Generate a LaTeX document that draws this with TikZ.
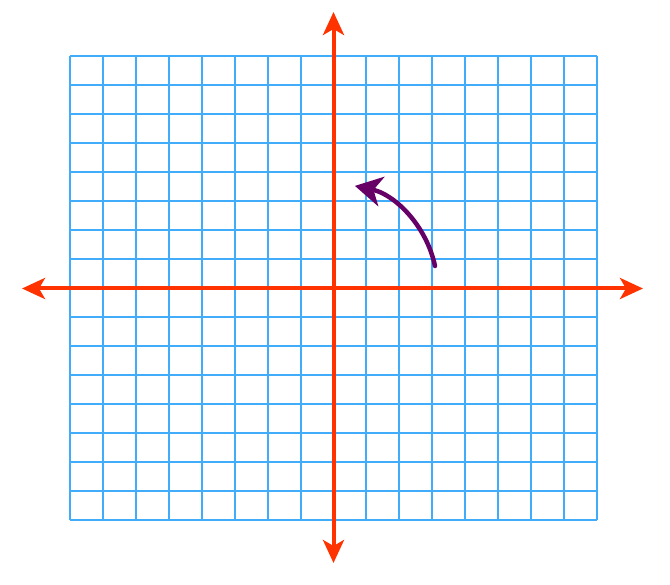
\documentclass[tikz,border=0pt]{standalone}
\usetikzlibrary{arrows.meta}
\definecolor{gridblue}{RGB}{64,172,250}
\definecolor{axisred}{RGB}{255,51,0}
\definecolor{arcpurple}{RGB}{102,0,102}
\tikzset{
  gridline/.style={draw=gridblue,line width=2pt},
  axisline/.style={draw=axisred,line width=4pt,{Stealth[length=23pt,width=21pt,inset=6pt]}-{Stealth[length=23pt,width=21pt,inset=6pt]}},
  rotarrow/.style={draw=arcpurple,line width=4.5pt,line cap=round,-{Stealth[length=27pt,width=30pt,inset=8pt]}}
}
\begin{document}
\begin{tikzpicture}[x=1pt,y=-1pt]
\useasboundingbox (0,0) rectangle (670,585);
% grid
\foreach \i in {0,...,16}{
  \draw[gridline] ({70+\i*32.94},56) -- ({70+\i*32.94},520);
  \draw[gridline] (70,{56+\i*29}) -- (597,{56+\i*29});
}
% axes
\coordinate (O) at (333.5,288.5);
\coordinate (L) at (22,288.5);
\coordinate (R) at (643,288.5);
\coordinate (T) at (333.5,12);
\coordinate (B) at (333.5,563);
\draw[axisline] (L) -- (R);
\draw[axisline] (B) -- (T);
% rotation arrow
\coordinate (S) at (435,266);
\draw[rotarrow] (S) arc[start angle=-12,end angle=-78,radius=104];
\end{tikzpicture}
\end{document}
